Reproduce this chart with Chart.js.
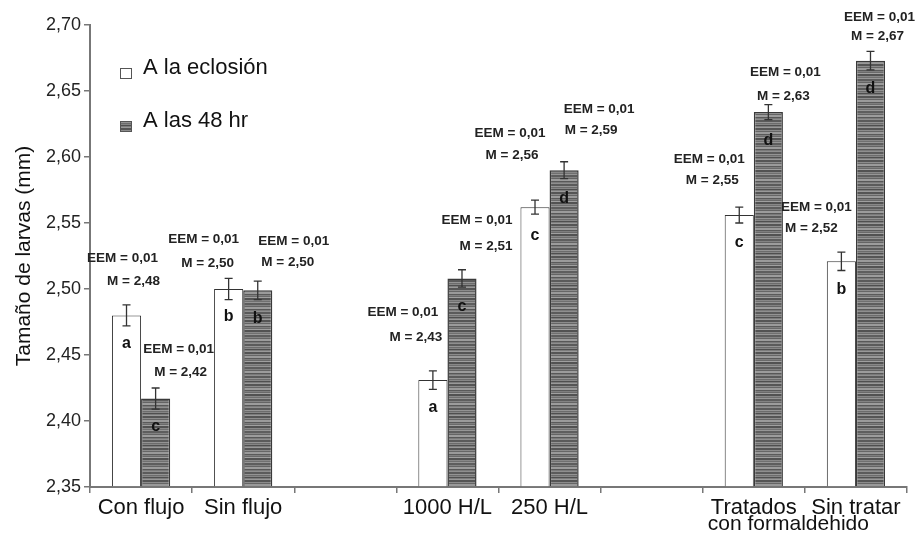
<!DOCTYPE html>
<html>
<head>
<meta charset="utf-8">
<script src="https://cdn.jsdelivr.net/npm/chart.js@4.4.1/dist/chart.umd.min.js"></script>
<style>
  html, body { margin: 0; padding: 0; background: #fff; }
  #wrap { width: 916px; height: 533px; position: relative; }
</style>
</head>
<body>
<div id="wrap"><canvas id="chart"></canvas></div>
<script>
// Categories (empty strings are the gaps between groups).
const categories = ['Con flujo', 'Sin flujo', '', '1000 H/L', '250 H/L', '', 'Tratados', 'Sin tratar'];

// Means.
const eclosion = [2.480, 2.500, null, 2.431, 2.562, null, 2.556, 2.521];
const at48 = [2.417, 2.499, null, 2.508, 2.590, null, 2.634, 2.673];

// Error bar half-lengths.
const eclosionErr = [0.008, 0.008, null, 0.007, 0.0053, null, 0.006, 0.007];
const at48Err = [0.008, 0.007, null, 0.0066, 0.0064, null, 0.0057, 0.007];

// Significance letters inside the bars.
const eclosionLetters = ['a', 'b', '', 'a', 'c', '', 'c', 'b'];
const at48Letters = ['c', 'b', '', 'c', 'd', '', 'd', 'd'];

// Printed statistics above the bars.
const eclosionEEM = ['0,01', '0,01', null, '0,01', '0,01', null, '0,01', '0,01'];
const eclosionM = ['2,48', '2,50', null, '2,43', '2,56', null, '2,55', '2,52'];
const at48EEM = ['0,01', '0,01', null, '0,01', '0,01', null, '0,01', '0,01'];
const at48M = ['2,42', '2,50', null, '2,51', '2,59', null, '2,63', '2,67'];

// Y axis ticks.
const yMin = 2.35;
const yMax = 2.70;
const yStep = 0.05;

// Placement of the two text lines, relative to the bar's centre and top: [dxEEM, dyEEM, dxM, dyM].
const eclosionTextPos = [[-4, -57, 7, -34], [-25, -50, -21, -26], null, [-30, -68, -17, -43], [-25, -74, -23, -52], null, [-30, -56, -27, -35], [-25, -54, -30, -33]];
const at48TextPos = [[23, -49, 25, -26], [36, -49, 30, -28], null, [15, -58, 24, -32], [35, -61, 27, -40], null, [17, -40, 15, -16], [9, -43, 7, -24]];

const FONT = '"Liberation Sans", Arial, sans-serif';

// Horizontal striped grey fill for the 48 hr bars.
function makeStripes() {
    const shades = ['#555555', '#555555', '#8c8c8c', '#666666', '#9a9a9a', '#9a9a9a', '#5a5a5a', '#7e7e7e',
                    '#6a6a6a', '#a0a0a0', '#525252', '#525252', '#888888', '#707070', '#969696', '#5e5e5e',
                    '#5e5e5e', '#838383', '#646464', '#9c9c9c', '#9c9c9c', '#585858', '#7a7a7a', '#8f8f8f',
                    '#5b5b5b', '#5b5b5b', '#949494', '#6c6c6c', '#868686', '#4f4f4f', '#7c7c7c', '#999999'];
    const c = document.createElement('canvas');
    c.width = 4;
    c.height = shades.length;
    const g = c.getContext('2d');
    shades.forEach((s, i) => {
        g.fillStyle = s;
        g.fillRect(0, i, 4, 1);
    });
    return g.createPattern(c, 'repeat');
}

const stripes = makeStripes();

// Draws error bars, letters and the EEM / M labels.
const annotations = {
    id: 'annotations',
    afterDatasetsDraw(chart) {
        const ctx = chart.ctx;
        const y = chart.scales.y;
        const extras = [
            { err: eclosionErr, letters: eclosionLetters, eem: eclosionEEM, m: eclosionM, pos: eclosionTextPos },
            { err: at48Err, letters: at48Letters, eem: at48EEM, m: at48M, pos: at48TextPos }
        ];
        ctx.save();
        chart.data.datasets.forEach((ds, di) => {
            const meta = chart.getDatasetMeta(di);
            const ex = extras[di];
            meta.data.forEach((bar, i) => {
                const v = ds.data[i];
                if (v === null) return;
                const x = bar.x;
                const top = bar.y;

                // Error bar
                const e = ex.err[i];
                const y1 = y.getPixelForValue(v + e);
                const y2 = y.getPixelForValue(v - e);
                ctx.strokeStyle = '#333';
                ctx.lineWidth = 1.3;
                ctx.beginPath();
                ctx.moveTo(x, y1); ctx.lineTo(x, y2);
                ctx.moveTo(x - 4, y1); ctx.lineTo(x + 4, y1);
                ctx.moveTo(x - 4, y2); ctx.lineTo(x + 4, y2);
                ctx.stroke();

                // Letter
                ctx.fillStyle = '#111';
                ctx.font = 'bold 16px ' + FONT;
                ctx.textAlign = 'center';
                ctx.textBaseline = 'middle';
                ctx.fillText(ex.letters[i], x, top + 28);

                // EEM / M text
                const p = ex.pos[i];
                ctx.fillStyle = '#222';
                ctx.font = 'bold 13.5px ' + FONT;
                ctx.fillText('EEM = ' + ex.eem[i], x + p[0], top + p[1]);
                ctx.fillText('M = ' + ex.m[i], x + p[2], top + p[3]);
            });
        });

        // Second line of the "Tratados" label
        const xs = chart.scales.x;
        ctx.fillStyle = '#111';
        ctx.font = '21px ' + FONT;
        ctx.textAlign = 'left';
        ctx.textBaseline = 'middle';
        ctx.fillText('con formaldehido', xs.getPixelForValue(6) - 46, 524);

        // Legend
        const items = [
            { label: 'A la eclosión', fill: '#fff', y: 68 },
            { label: 'A las 48 hr', fill: stripes, y: 121 }
        ];
        const lx = chart.chartArea.left + 30;
        items.forEach(it => {
            ctx.fillStyle = it.fill;
            ctx.fillRect(lx, it.y, 11, 10);
            ctx.strokeStyle = '#555';
            ctx.lineWidth = 1;
            ctx.strokeRect(lx + 0.5, it.y + 0.5, 11, 10);
            ctx.fillStyle = '#111';
            ctx.font = '22px ' + FONT;
            ctx.textAlign = 'left';
            ctx.textBaseline = 'middle';
            ctx.fillText(it.label, lx + 23, it.y);
        });
        ctx.restore();
    }
};

new Chart(document.getElementById('chart'), {
    type: 'bar',
    data: {
        labels: categories,
        datasets: [
            {
                label: 'A la eclosión',
                data: eclosion,
                backgroundColor: '#ffffff',
                borderColor: '#333',
                borderWidth: 1,
                base: yMin
            },
            {
                label: 'A las 48 hr',
                data: at48,
                backgroundColor: stripes,
                borderColor: '#3a3a3a',
                borderWidth: 1.5,
                base: yMin
            }
        ]
    },
    options: {
        responsive: true,
        maintainAspectRatio: false,
        animation: false,
        categoryPercentage: 0.57,
        barPercentage: 1.0,
        layout: { padding: { top: 25, right: 9, left: 0, bottom: 0 } },
        plugins: {
            legend: { display: false },
            tooltip: { enabled: false }
        },
        scales: {
            x: {
                offset: true,
                grid: { offset: true, drawOnChartArea: false, drawTicks: true, tickLength: 6, color: '#777', lineWidth: 1.5 },
                border: { color: '#777', width: 2 },
                ticks: { color: '#111', font: { family: FONT, size: 22 }, padding: 2, maxRotation: 0, autoSkip: false },
                afterFit(scale) { scale.height = 46; }
            },
            y: {
                min: yMin,
                max: yMax,
                grid: { drawOnChartArea: false, drawTicks: true, tickLength: 6, color: '#777', lineWidth: 1.5 },
                border: { color: '#777', width: 2 },
                ticks: {
                    stepSize: yStep,
                    color: '#222',
                    font: { family: FONT, size: 18 },
                    padding: 3,
                    callback: v => v.toFixed(2).replace('.', ',')
                },
                title: {
                    display: true,
                    text: 'Tamaño de larvas (mm)',
                    color: '#111',
                    font: { family: FONT, size: 21 },
                    padding: { top: 12, bottom: 0 }
                },
                afterFit(scale) { scale.width = 90; }
            }
        }
    },
    plugins: [annotations]
});
</script>
</body>
</html>
